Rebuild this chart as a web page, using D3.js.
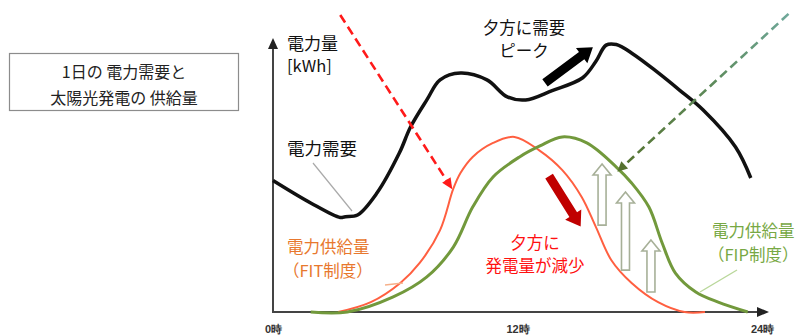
<!DOCTYPE html>
<html>
<head>
<meta charset="utf-8">
<script src="https://cdn.jsdelivr.net/npm/d3@7"></script>
<style>
  html, body { margin: 0; padding: 0; background: #fff; }
  svg { display: block; font-family: "Noto Sans CJK JP", "Noto Sans", sans-serif; }
</style>
</head>
<body>
<svg id="chart" width="798" height="336"></svg>
<script>
// Hour of day and relative energy (arbitrary units) for each curve
const demandHours  = [0, 1.85, 3.3, 3.55, 4.15, 5.1, 6.2, 6.75, 7.55, 8.2, 9.2, 10.5, 11.5, 12.4, 13.7, 15.2, 15.85, 16.35, 16.85, 17.7, 18.85, 19.95, 21.1, 22.7, 23.45];
const demandValues = [48, 39.8, 34.5, 34.8, 35.4, 43.4, 58, 67.5, 77.4, 84.7, 87.2, 84.7, 78.5, 77.4, 80.8, 85.5, 91.5, 97.4, 97.6, 94, 87.6, 81, 73.8, 60.2, 48.9];

const fitHours  = [3.2, 4.8, 6.25, 7.2, 8.2, 8.85, 9.2, 9.8, 10.8, 11.85, 13.05, 14.2, 15.15, 15.85, 16.6, 17.6, 18.9, 20.2, 21.2];
const fitValues = [0, 3.6, 10.6, 17.9, 29.9, 45, 50.7, 56.6, 61.7, 63.9, 59.1, 51.8, 42, 31, 19, 10.6, 3.6, 0, 0];

const fipHours  = [1.85, 3.65, 5.9, 7.55, 8.85, 9.8, 10.8, 12.1, 13.1, 14.2, 15.4, 16.85, 17.6, 18.45, 19.1, 19.75, 20.75, 21.85, 23.3];
const fipValues = [0, 0, 5.5, 12.8, 23.7, 38.3, 49.3, 56.6, 60.6, 63.9, 61.7, 52.9, 47.1, 38.3, 25.2, 14.2, 7.3, 3.6, 0];

const tickHours  = [0, 12, 24];
const tickLabels = ["0時", "12時", "24時"];

// Annotation arrows, given as [hour, value] pairs
const fitPointer   = [[3.3, 108.4], [8.8, 44.8]];
const fipPointer   = [[25.3, 108.8], [16.9, 51.2]];
const peakArrow    = [[13.35, 83.6], [15.7, 96.6]];
const declineArrow = [[13.55, 49.6], [15.1, 31.2]];
const upHours  = [16.15, 17.3, 18.55];
const upBottom = [31.7, 15.3, 7.3];
const upTop    = [54, 43.8, 26.3];

const svg = d3.select("#chart");

const x = d3.scaleLinear().domain([0, 24]).range([273, 762]);
const y = d3.scaleLinear().domain([0, 100]).range([312, 38]);

// Title box
svg.append("rect")
  .attr("x", 9.5).attr("y", 53.5).attr("width", 229).attr("height", 57)
  .attr("fill", "#fff").attr("stroke", "#8c8c8c").attr("stroke-width", 1.2);
svg.append("text").attr("x", 124).attr("y", 78).attr("text-anchor", "middle")
  .attr("font-size", 16).attr("fill", "#222").text("1日の 電力需要と");
svg.append("text").attr("x", 124).attr("y", 104).attr("text-anchor", "middle")
  .attr("font-size", 16).attr("fill", "#222").text("太陽光発電の 供給量");

// Axes with arrow tips
const axisColor = "#444";
svg.append("line").attr("x1", x(0)).attr("x2", x(0)).attr("y1", y(0)).attr("y2", 46)
  .attr("stroke", axisColor).attr("stroke-width", 2);
svg.append("path")
  .attr("d", `M${x(0)},38 L${x(0) - 5},49 L${x(0) + 5},49 Z`).attr("fill", "#222");
svg.append("line").attr("x1", x(0) - 1).attr("x2", 760).attr("y1", y(0)).attr("y2", y(0))
  .attr("stroke", axisColor).attr("stroke-width", 2);
svg.append("path")
  .attr("d", `M769,${y(0)} L757,${y(0) - 5} L757,${y(0) + 5} Z`).attr("fill", "#222");

// Hour tick labels
const xAxis = d3.axisBottom(x).tickValues(tickHours)
  .tickFormat((d, i) => tickLabels[i]).tickSize(0).tickPadding(13);
const gx = svg.append("g").attr("transform", `translate(0,${y(0)})`).call(xAxis);
gx.select(".domain").remove();
gx.selectAll("text").attr("font-size", 11).attr("font-weight", "bold").attr("fill", "#333")
  .attr("font-family", "Liberation Sans, Arial, sans-serif");

// Curves
const line = d3.line().x(d => x(d[0])).y(d => y(d[1])).curve(d3.curveCatmullRom.alpha(0.5));
const zip = (a, b) => a.map((h, i) => [h, b[i]]);

svg.append("path").datum(zip(fitHours, fitValues)).attr("d", line)
  .attr("fill", "none").attr("stroke", "#ff5f40").attr("stroke-width", 2);
svg.append("path").datum(zip(fipHours, fipValues)).attr("d", line)
  .attr("fill", "none").attr("stroke", "#72993c").attr("stroke-width", 3);
svg.append("path").datum(zip(demandHours, demandValues)).attr("d", line)
  .attr("fill", "none").attr("stroke", "#111").attr("stroke-width", 3.5)
  .attr("stroke-linejoin", "round");

// Helpers for arrows in pixel space
function blockArrow(p0, p1, shaft, head, headLen) {
  const dx = p1[0] - p0[0], dy = p1[1] - p0[1];
  const len = Math.hypot(dx, dy);
  const ux = dx / len, uy = dy / len, nx = -uy, ny = ux;
  const bx = p1[0] - ux * headLen, by = p1[1] - uy * headLen;
  const pts = [
    [p0[0] + nx * shaft / 2, p0[1] + ny * shaft / 2],
    [bx + nx * shaft / 2, by + ny * shaft / 2],
    [bx + nx * head / 2, by + ny * head / 2],
    p1,
    [bx - nx * head / 2, by - ny * head / 2],
    [bx - nx * shaft / 2, by - ny * shaft / 2],
    [p0[0] - nx * shaft / 2, p0[1] - ny * shaft / 2]
  ];
  return "M" + pts.map(p => p.join(",")).join("L") + "Z";
}
function headOnly(p0, p1, head, headLen) {
  const dx = p1[0] - p0[0], dy = p1[1] - p0[1];
  const len = Math.hypot(dx, dy);
  const ux = dx / len, uy = dy / len, nx = -uy, ny = ux;
  const bx = p1[0] - ux * headLen, by = p1[1] - uy * headLen;
  return `M${p1[0]},${p1[1]}L${bx + nx * head / 2},${by + ny * head / 2}L${bx - nx * head / 2},${by - ny * head / 2}Z`;
}
const px = d => [x(d[0]), y(d[1])];
function shorten(p0, p1, k) {
  const dx = p1[0] - p0[0], dy = p1[1] - p0[1];
  const len = Math.hypot(dx, dy);
  return [p1[0] - dx / len * k, p1[1] - dy / len * k];
}

// Dashed pointer to the FIT curve
{
  const a = px(fitPointer[0]), b = px(fitPointer[1]);
  const e = shorten(a, b, 8);
  svg.append("line").attr("x1", a[0]).attr("y1", a[1]).attr("x2", e[0]).attr("y2", e[1])
    .attr("stroke", "#ff1a1a").attr("stroke-width", 2.6).attr("stroke-dasharray", "9,5");
  svg.append("path").attr("d", headOnly(a, b, 10, 11)).attr("fill", "#ff1a1a");
}

// Dashed pointer to the FIP curve
{
  const a = px(fipPointer[0]), b = px(fipPointer[1]);
  const grad = svg.append("defs").append("linearGradient").attr("id", "fipGrad")
    .attr("gradientUnits", "userSpaceOnUse")
    .attr("x1", a[0]).attr("y1", a[1]).attr("x2", b[0]).attr("y2", b[1]);
  grad.append("stop").attr("offset", "0%").attr("stop-color", "#6fa89a");
  grad.append("stop").attr("offset", "45%").attr("stop-color", "#5d8a5a");
  grad.append("stop").attr("offset", "100%").attr("stop-color", "#56722f");
  const e = shorten(a, b, 7);
  svg.append("line").attr("x1", a[0]).attr("y1", a[1]).attr("x2", e[0]).attr("y2", e[1])
    .attr("stroke", "url(#fipGrad)").attr("stroke-width", 2.6).attr("stroke-dasharray", "9,5");
  svg.append("path").attr("d", headOnly(a, b, 10, 10)).attr("fill", "#56722f");
}

// Evening demand peak arrow
svg.append("path").attr("d", blockArrow(px(peakArrow[0]), px(peakArrow[1]), 9, 19, 14))
  .attr("fill", "#000");

// Evening solar decline arrow
svg.append("path").attr("d", blockArrow(px(declineArrow[0]), px(declineArrow[1]), 9, 19, 14))
  .attr("fill", "#c00000");

// Hollow up arrows between the two supply curves
upHours.forEach((h, i) => {
  const a = [x(h), y(upBottom[i])], b = [x(h), y(upTop[i])];
  svg.append("path").attr("d", blockArrow(a, b, 8, 18, 11))
    .attr("fill", "#fff").attr("stroke", "#a7b098").attr("stroke-width", 1.6)
    .attr("stroke-linejoin", "miter");
});

// Leader lines
svg.append("line").attr("x1", 313).attr("y1", 163).attr("x2", 352).attr("y2", 211)
  .attr("stroke", "#aaa").attr("stroke-width", 1.2);
svg.append("line").attr("x1", 385).attr("y1", 285).attr("x2", 403).attr("y2", 283)
  .attr("stroke", "#f6b08a").attr("stroke-width", 1.4);
svg.append("line").attr("x1", 700).attr("y1", 292).attr("x2", 737).attr("y2", 270)
  .attr("stroke", "#b9d79a").attr("stroke-width", 1.4);

// Labels
const label = (tx, ty, txt, color, size, anchor) =>
  svg.append("text").attr("x", tx).attr("y", ty).attr("fill", color)
    .attr("font-size", size).attr("text-anchor", anchor || "start").text(txt);

label(287, 50, "電力量", "#111", 17);
label(287, 72, "[kWh]", "#111", 16.5);
label(524, 34, "夕方に需要", "#111", 16.5, "middle");
label(524, 57, "ピーク", "#111", 16.5, "middle");
label(287, 155, "電力需要", "#111", 17.5);
label(287, 253, "電力供給量", "#e8782e", 16.5);
label(283, 277, "（FIT制度）", "#e8782e", 16.5);
label(535, 249, "夕方に", "#ff1111", 16.5, "middle");
label(535, 272, "発電量が減少", "#ff1111", 16.5, "middle");
label(712, 237, "電力供給量", "#77a844", 16.5);
label(708, 261, "（FIP制度）", "#77a844", 16.5);
</script>
</body>
</html>
